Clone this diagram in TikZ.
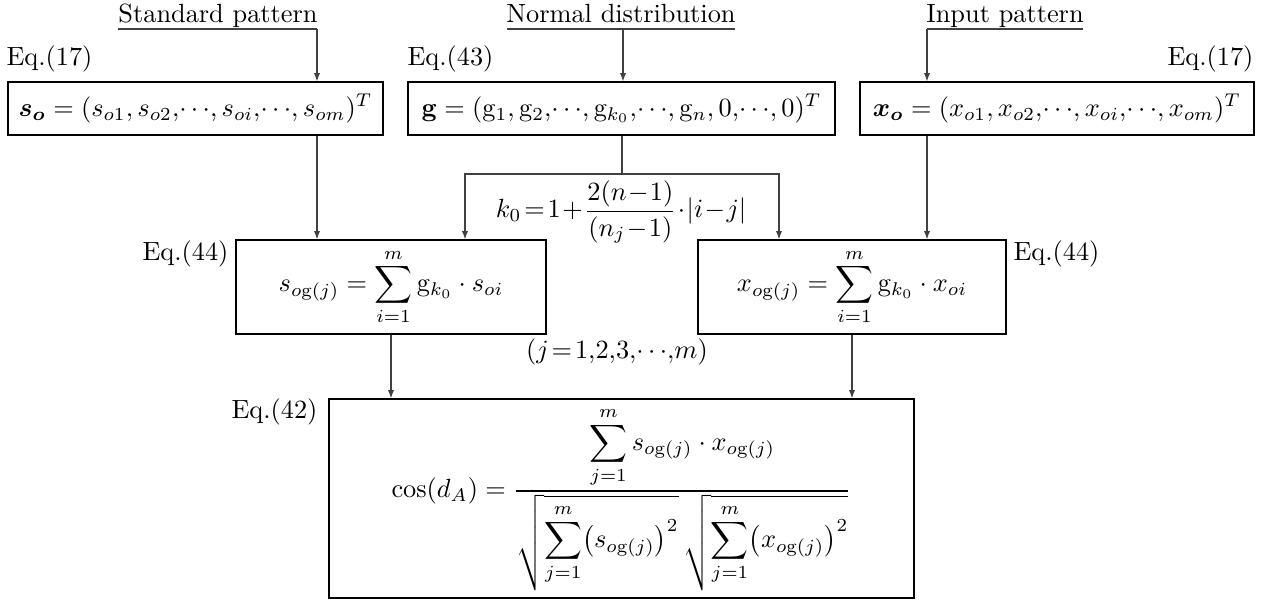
\documentclass[tikz,border=0pt]{standalone}
\usepackage{amsmath,amssymb}
\usetikzlibrary{arrows.meta,calc}
\begin{document}
\begin{tikzpicture}[x=0.38pt,y=-0.38pt,
  box/.style={draw=black,line width=0.45pt,inner sep=0pt,anchor=center},
  conn/.style={draw=black!75,line width=0.45pt},
  arr/.style={conn,-{Latex[length=3.2pt,width=2.4pt]}},
  lbl/.style={inner sep=0pt},
  eqlbl/.style={inner sep=0pt}]
\useasboundingbox (0,0) rectangle (1287,604);
% headings
\node[lbl,anchor=base] (sp) at (218,22) {Standard pattern};
\node[lbl,anchor=base] (nd) at (621,22) {Normal distribution};
\node[lbl,anchor=base] (ip) at (1005,22) {Input pattern};
\coordinate (spa) at (118,29); \coordinate (spb) at (317,29);
\coordinate (nda) at (507,29); \coordinate (ndb) at (735,29); \coordinate (ndc) at (623,29);
\coordinate (ipa) at (1083,29); \coordinate (ipb) at (927,29);
% boxes
\node[box,minimum width={375*0.38pt},minimum height={53*0.38pt}] (so) at (195.5,108.5)
  {$\boldsymbol{s_o}=(s_{o1},s_{o2},\!\cdots\!,s_{oi},\!\cdots\!,s_{om})^T$};
\node[box,minimum width={427*0.38pt},minimum height={53*0.38pt}] (g) at (621.5,108.5)
  {$\mathbf{g}=(\mathrm{g}_1,\mathrm{g}_2,\!\cdots\!,\mathrm{g}_{k_0},\!\cdots\!,\mathrm{g}_n,0,\!\cdots\!,0)^T$};
\node[box,minimum width={394*0.38pt},minimum height={53*0.38pt}] (xo) at (1057,108.5)
  {$\boldsymbol{x_o}=(x_{o1},x_{o2},\!\cdots\!,x_{oi},\!\cdots\!,x_{om})^T$};
\node[box,minimum width={310*0.38pt},minimum height={94*0.38pt}] (sg) at (391,287)
  {$s_{o\mathrm{g}(j)}=\displaystyle\sum_{i=1}^{m}\mathrm{g}_{k_0}\cdot s_{oi}$};
\node[box,minimum width={308*0.38pt},minimum height={94*0.38pt}] (xg) at (852,287)
  {$x_{o\mathrm{g}(j)}=\displaystyle\sum_{i=1}^{m}\mathrm{g}_{k_0}\cdot x_{oi}$};
\node[box,minimum width={585*0.38pt},minimum height={199*0.38pt}] (cs) at (621.5,498.5)
  {$\cos(d_A)=\dfrac{\displaystyle\sum_{j=1}^{m}s_{o\mathrm{g}(j)}\cdot x_{o\mathrm{g}(j)}}
   {\sqrt{\displaystyle\sum_{j=1}^{m}\bigl(s_{o\mathrm{g}(j)}\bigr)^2}\,\sqrt{\displaystyle\sum_{j=1}^{m}\bigl(x_{o\mathrm{g}(j)}\bigr)^2}}$};
% equation labels
\node[eqlbl,anchor=base west] (e17a) at (6,65) {Eq.(17)};
\node[eqlbl,anchor=base west] (e43) at (407,65) {Eq.(43)};
\node[eqlbl,anchor=base east] (e17b) at (1254,65) {Eq.(17)};
\node[eqlbl,anchor=base east] (e44a) at (229,260) {Eq.(44)};
\node[eqlbl,anchor=base west] (e44b) at (1013,260) {Eq.(44)};
\node[eqlbl,anchor=base east] (e42) at (318,418) {Eq.(42)};
% formulas
\node[lbl] (k0) at (621,212) {$k_0\!=\!1\!+\!\dfrac{2(n\!-\!1)}{(n_j\!-\!1)}\!\cdot\!|i\!-\!j|$};
\node[lbl] (jj) at (617,352) {$(j\!=\!1{,}2{,}3{,}\!\cdots\!{,}m)$};
% connectors
\draw[conn] (spa) -- (spb);
\draw[arr] (spb) -- (so.north -| spb);
\draw[conn] (nda) -- (ndb);
\draw[arr] (ndc) -- (g.north -| ndc);
\draw[conn] (ipa) -- (ipb);
\draw[arr] (ipb) -- (xo.north -| ipb);
\draw[arr] (so.south -| spb) -- (sg.north -| spb);
\coordinate (br) at (622,174); \coordinate (brl) at (465,174); \coordinate (brr) at (779,174);
\draw[conn] (g.south -| br) -- (br);
\draw[arr] (br) -- (brl) -- (sg.north -| brl);
\draw[arr] (br) -- (brr) -- (xg.north -| brr);
\draw[arr] (xo.south -| ipb) -- (xg.north -| ipb);
\draw[arr] (sg.south) -- (cs.north -| sg.south);
\draw[arr] (xg.south) -- (cs.north -| xg.south);
\end{tikzpicture}
\end{document}
